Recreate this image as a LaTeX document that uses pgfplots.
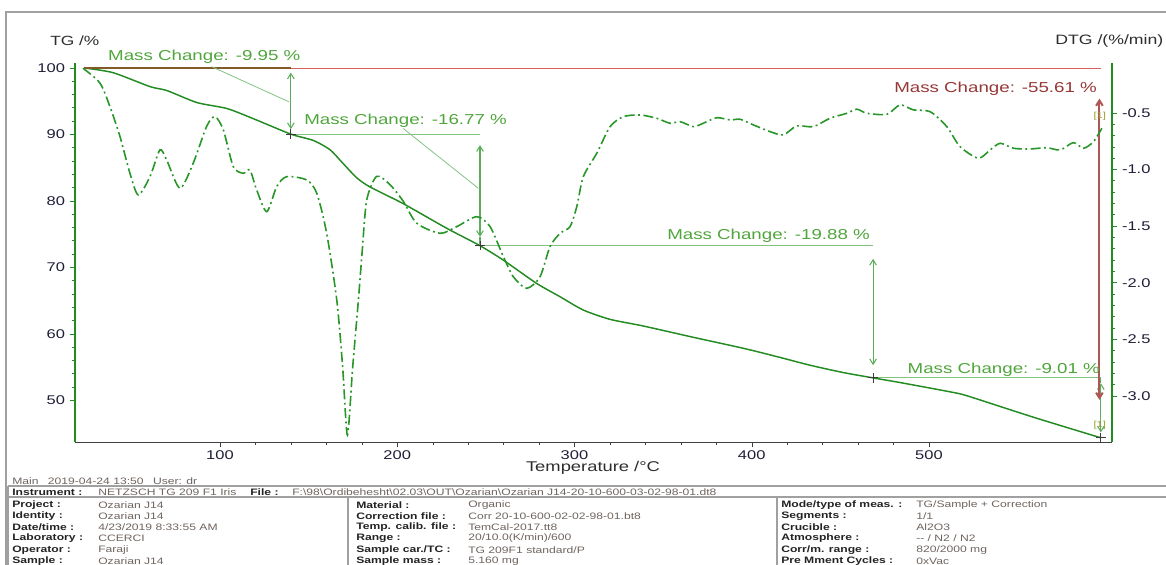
\documentclass[border=0pt]{standalone}
\usepackage{pgfplots}
\pgfplotsset{compat=1.18}
\usepackage{fontspec}
\setmainfont[FakeStretch=1.3]{Liberation Sans}
\usetikzlibrary{arrows.meta}
\definecolor{tgc}{RGB}{34,139,34}
\definecolor{dtgc}{RGB}{40,150,40}
\definecolor{anntext}{RGB}{80,165,60}
\definecolor{annline}{RGB}{130,195,130}
\definecolor{redl}{RGB}{215,95,95}
\definecolor{redt}{RGB}{150,55,55}
\definecolor{redarr}{RGB}{175,85,85}
\definecolor{brownl}{RGB}{130,90,40}
\definecolor{ticklab}{RGB}{30,30,55}
\definecolor{labc}{RGB}{45,45,45}
\definecolor{tabval}{RGB}{110,100,95}
\definecolor{tablab}{RGB}{35,35,35}
\definecolor{frame}{RGB}{160,160,160}
\definecolor{markc}{RGB}{60,60,60}
\definecolor{onec}{RGB}{150,160,40}
\begin{document}
\begin{tikzpicture}
\path[use as bounding box] (0,0) rectangle (874.5pt,423pt);
\clip (0,0) rectangle (874.5pt,423pt);
\begin{scope}[x=0.75pt,y=0.75pt]
% page frame
\draw[frame, line width=0.9pt] (6,-10) -- (6,552) -- (1200,552);
% axis labels
\node[anchor=west, inner sep=0, text=labc, font=\fontsize{10}{12}\selectfont] at (50,523) {TG /\%};
\node[anchor=west, inner sep=0, text=labc, font=\fontsize{10.2}{12}\selectfont] at (1055,523) {DTG /(\%/min)};
\node[inner sep=0, text=labc, font=\fontsize{10.6}{12}\selectfont] at (593,96) {Temperature /°C};
% info block
\begin{scope}[every node/.style={anchor=west, inner sep=0, font=\fontsize{7}{8}\selectfont}]
\node[text=tabval] at (12,83) {Main\quad 2019-04-24 13:50\quad User: dr};
\draw[frame, line width=0.9pt] (8,78) -- (1170,78);
\draw[frame, line width=0.9pt] (8,67) -- (1170,67);
\draw[frame, line width=0.9pt] (8,-5) -- (8,78);
\draw[frame, line width=0.9pt] (348,-5) -- (348,67);
\draw[frame, line width=0.9pt] (777,-5) -- (777,67);
\node[text=tablab] at (12,72) {\bfseries Instrument :};
\node[text=tabval] at (98,72) {NETZSCH TG 209 F1 Iris};
\node[text=tablab] at (250,72) {\bfseries File :};
\node[text=tabval] at (292,72) {F:\textbackslash 98\textbackslash Ordibehesht\textbackslash 02.03\textbackslash OUT\textbackslash Ozarian\textbackslash Ozarian J14-20-10-600-03-02-98-01.dt8};
% column 1
\node[text=tablab] at (12,59) {\bfseries Project :};
\node[text=tablab] at (12,48) {\bfseries Identity :};
\node[text=tablab] at (12,37) {\bfseries Date/time :};
\node[text=tablab] at (12,26) {\bfseries Laboratory :};
\node[text=tablab] at (12,14) {\bfseries Operator :};
\node[text=tablab] at (12,3) {\bfseries Sample :};
\node[text=tabval] at (98,59) {Ozarian J14};
\node[text=tabval] at (98,48) {Ozarian J14};
\node[text=tabval] at (98,37) {4/23/2019 8:33:55 AM};
\node[text=tabval] at (98,26) {CCERCI};
\node[text=tabval] at (98,14) {Faraji};
\node[text=tabval] at (98,3) {Ozarian J14};
% column 2
\node[text=tablab] at (356,59) {\bfseries Material :};
\node[text=tablab] at (356,48) {\bfseries Correction file :};
\node[text=tablab] at (356,37) {\bfseries Temp. calib. file :};
\node[text=tablab] at (356,26) {\bfseries Range :};
\node[text=tablab] at (356,14) {\bfseries Sample car./TC :};
\node[text=tablab] at (356,3) {\bfseries Sample mass :};
\node[text=tabval] at (468,59) {Organic};
\node[text=tabval] at (468,48) {Corr 20-10-600-02-02-98-01.bt8};
\node[text=tabval] at (468,37) {TemCal-2017.tt8};
\node[text=tabval] at (468,26) {20/10.0(K/min)/600};
\node[text=tabval] at (468,14) {TG 209F1 standard/P};
\node[text=tabval] at (468,3) {5.160 mg};
% column 3
\node[text=tablab] at (781,59) {\bfseries Mode/type of meas. :};
\node[text=tablab] at (781,48) {\bfseries Segments :};
\node[text=tablab] at (781,37) {\bfseries Crucible :};
\node[text=tablab] at (781,26) {\bfseries Atmosphere :};
\node[text=tablab] at (781,14) {\bfseries Corr/m. range :};
\node[text=tablab] at (781,3) {\bfseries Pre Mment Cycles :};
\node[text=tabval] at (916,59) {TG/Sample + Correction};
\node[text=tabval] at (916,48) {1/1};
\node[text=tabval] at (916,37) {Al2O3};
\node[text=tabval] at (916,26) {{-}{-} / N2 / N2};
\node[text=tabval] at (916,14) {820/2000 mg};
\node[text=tabval] at (916,3) {0xVac};
\end{scope}
\end{scope}

% ---------- TG axis ----------
\begin{axis}[
  at={(56.25pt,91.5pt)}, anchor=south west, scale only axis,
  width=777.75pt, height=284.5pt,
  xmin=18.2, xmax=603.3, ymin=43.76, ymax=100.8,
  axis x line*=bottom, axis y line*=left,
  x axis line style={black!75},
  y axis line style={tgc, line width=0.8pt},
  xtick={100,200,300,400,500}, minor x tick num=4,
  ytick={50,60,70,80,90,100}, minor y tick num=4,
  tick align=outside, major tick length=4pt, minor tick length=2.2pt,
  xtick style={black!75},
  ytick style={tgc, line width=0.6pt},
  /pgf/number format/assume math mode=true,
  ticklabel style={font=\fontsize{9.5}{11}\selectfont, text=ticklab},
  xticklabel style={yshift=1pt},
  clip=false,
]
\addplot[tgc, line width=1.1pt, smooth, tension=0.4] coordinates {
(23.3,100.0) (39.6,99.3) (60.5,97.2) (70.1,96.6) (87.0,94.8) (104.0,93.9)
(118.6,92.4) (140.0,90.05) (152.7,89.1) (162.1,87.7) (169.6,85.6) (177.1,83.5)
(184.7,82.1) (203.4,79.6) (227.9,75.9) (246.7,73.28) (259.9,71.1) (278.7,67.6)
(291.9,65.6) (305.0,63.6) (320.1,62.2) (338.9,61.2) (367.1,59.5) (395.3,57.85)
(414.2,56.6) (433.0,55.3) (451.7,54.2) (468.5,53.40) (483.7,52.7) (512.0,51.3)
(521.6,50.7) (558.8,47.5) (597.0,44.39)
};
% baseline lines
\draw[brownl, line width=0.9pt] (axis cs:23.3,100) -- (axis cs:140,100);
\draw[redl, line width=0.7pt] (axis cs:140,100) -- (axis cs:597.2,100);
% step levels
\draw[annline, line width=0.8pt] (axis cs:140,90.05) -- (axis cs:246.7,90.05);
\draw[annline, line width=0.8pt] (axis cs:246.7,73.28) -- (axis cs:468.5,73.28);
\draw[annline, line width=0.8pt] (axis cs:468.5,53.40) -- (axis cs:597,53.40);
% vertical arrows
\tikzset{annarr/.style={annline!60!tgc, line width=0.8pt, {Straight Barb[length=4pt,width=5pt]}-{Straight Barb[length=4pt,width=5pt]}}}
\draw[annarr] (axis cs:140,99.3) -- (axis cs:140,90.8);
\draw[annarr] (axis cs:246.7,88.4) -- (axis cs:246.7,74.6);
\draw[annline!60!tgc, line width=0.8pt] (axis cs:246.7,74.6) -- (axis cs:246.7,73.28);
\draw[annarr] (axis cs:468.5,71.3) -- (axis cs:468.5,55.3);
\draw[annarr] (axis cs:597,52.6) -- (axis cs:597,45.2);
\draw[annline!60!tgc, line width=0.8pt] (axis cs:597,53.4) -- (axis cs:597,52.6);
% leader lines
\draw[annline, line width=0.6pt] (axis cs:95.3,100.2) -- (axis cs:139,94.9);
\draw[annline, line width=0.6pt] (axis cs:203.4,90.9) -- (axis cs:245.8,81.9);
% red total arrow
\draw[redarr, line width=1.5pt, {Straight Barb[length=4pt,width=5pt]}-{Straight Barb[length=4pt,width=5pt]}] (axis cs:596.2,95.4) -- (axis cs:596.2,50.1);
% texts
\begin{scope}[every node/.style={inner sep=0, font=\fontsize{10.8}{12}\selectfont}]
\node[anchor=west, text=anntext] at (axis cs:36.8,101.66) {Mass Change: -9.95 \%};
\node[anchor=west, text=anntext] at (axis cs:147.4,92.0) {Mass Change: -16.77 \%};
\node[anchor=east, text=anntext] at (axis cs:466.8,74.7) {Mass Change: -19.88 \%};
\node[anchor=east, text=anntext] at (axis cs:596.6,54.67) {Mass Change: -9.01 \%};
\node[anchor=east, text=redt] at (axis cs:594.9,96.84) {Mass Change: -55.61 \%};
\node[text=onec, font=\fontsize{6.5}{7}\selectfont] at (axis cs:596.4,92.8) {[1]};
\node[text=onec, font=\fontsize{6.5}{7}\selectfont] at (axis cs:596.4,46.3) {[1]};
\end{scope}
% step markers
\addplot[only marks, mark=+, mark size=3.5pt, markc, line width=0.7pt] coordinates {
(140,90.05) (246.7,73.28) (468.5,53.40) (597,44.39)
};
\end{axis}

% ---------- DTG axis ----------
\begin{axis}[
  at={(56.25pt,91.5pt)}, anchor=south west, scale only axis,
  width=777.75pt, height=284.5pt,
  xmin=18.2, xmax=603.3, ymin=-3.406, ymax=-0.056,
  axis x line=none, axis y line*=right,
  y axis line style={tgc, line width=0.8pt},
  ytick={-3,-2.5,-2,-1.5,-1,-0.5},
  yticklabels={-3.0,-2.5,-2.0,-1.5,-1.0,-0.5},
  minor y tick num=4,
  tick align=outside, major tick length=4pt, minor tick length=2.2pt,
  ytick style={tgc, line width=0.6pt},
  ticklabel style={font=\fontsize{9.5}{11}\selectfont, text=ticklab},
  clip=false,
]
\addplot[dtgc, line width=1.2pt, smooth, tension=0.45,
  dash pattern=on 7.5pt off 2.6pt on 1.4pt off 2.6pt] coordinates {
(22.7,-0.105) (32.3,-0.237) (37.9,-0.444) (43.6,-0.709) (49.2,-1.033) (53.9,-1.224)
(60.5,-1.063) (66.1,-0.827) (69.9,-0.915) (77.4,-1.165) (84.9,-0.944) (92.5,-0.618)
(97.2,-0.533) (101.9,-0.650) (107.5,-0.974) (113.1,-1.033) (116.9,-1.004) (120.7,-1.180)
(126.4,-1.372) (132.0,-1.151) (137.6,-1.063) (148.9,-1.092) (154.6,-1.209) (160.2,-1.563)
(165.9,-2.152) (169.2,-2.741) (171.9,-3.345) (174.9,-2.741) (178.1,-2.152) (180.3,-1.710)
(182.8,-1.269) (188.4,-1.060) (195.9,-1.133) (203.4,-1.280) (211.0,-1.474) (224.2,-1.563)
(233.6,-1.504) (244.9,-1.416) (252.4,-1.504) (259.9,-1.769) (265.5,-1.946) (273.1,-2.049)
(280.6,-1.946) (286.2,-1.681) (291.9,-1.563) (297.5,-1.504) (301.3,-1.328) (305.0,-1.063)
(312.6,-0.856) (320.1,-0.621) (327.6,-0.533) (337.0,-0.518) (346.4,-0.547) (353.9,-0.591)
(359.6,-0.577) (367.1,-0.621) (372.7,-0.591) (380.3,-0.542) (387.8,-0.562) (393.5,-0.556)
(401.0,-0.606) (410.4,-0.665) (417.9,-0.694) (425.4,-0.615) (434.8,-0.621) (444.2,-0.547)
(453.7,-0.503) (459.3,-0.467) (465.0,-0.503) (476.3,-0.512) (483.7,-0.429) (491.2,-0.473)
(500.7,-0.489) (510.1,-0.621) (517.6,-0.798) (527.9,-0.900) (534.5,-0.827) (540.2,-0.768)
(547.7,-0.812) (557.1,-0.818) (566.5,-0.807) (574.0,-0.827) (581.5,-0.762) (587.2,-0.812)
(592.8,-0.754) (597.6,-0.635)
};
\end{axis}
\end{tikzpicture}
\end{document}
